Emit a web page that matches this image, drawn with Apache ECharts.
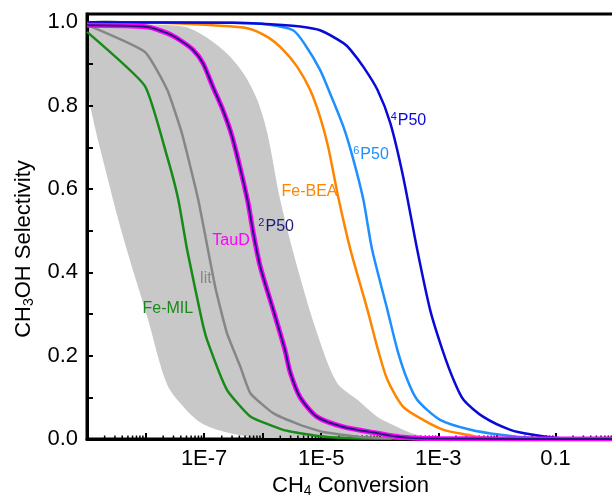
<!DOCTYPE html>
<html>
<head>
<meta charset="utf-8">
<script src="https://cdn.jsdelivr.net/npm/echarts@6/dist/echarts.min.js"></script>
<style>
  html, body { margin: 0; padding: 0; background: #fff; }
  #chart { width: 612px; height: 496px; }
</style>
</head>
<body>
<div id="chart"></div>
<script>
// Each curve: [log10(CH4 conversion), CH3OH selectivity]
const feMIL = [[-9, 0.977], [-8.01, 0.847], [-7.63, 0.677], [-7.44, 0.574], [-7.29, 0.454], [-7.04, 0.286],
  [-6.95, 0.238], [-6.61, 0.118], [-6.21, 0.054], [-5.65, 0.022], [-5.19, 0.01], [-4.85, 0.004], [-4.3, 0.001], [-3.8, 0]];
const lit = [[-9, 0.994], [-8.01, 0.929], [-7.63, 0.838], [-7.38, 0.734], [-7.1, 0.574], [-6.81, 0.365],
  [-6.61, 0.254], [-6.38, 0.173], [-6.21, 0.11], [-5.82, 0.062], [-5.36, 0.034], [-4.97, 0.017], [-4.33, 0.005], [-3.5, 0.001], [-3, 0]];
const tauD = [[-9, 0.993], [-7.97, 0.989], [-7.63, 0.974], [-7.41, 0.957], [-7.19, 0.934], [-7.02, 0.902],
  [-6.85, 0.845], [-6.68, 0.79], [-6.52, 0.725], [-6.26, 0.574], [-6.16, 0.494], [-6.04, 0.413], [-5.82, 0.31],
  [-5.62, 0.214], [-5.53, 0.16], [-5.36, 0.1], [-5.07, 0.053], [-4.62, 0.029], [-4.04, 0.014], [-3.65, 0.005], [-3, 0.001], [0, 0]];
const p50d2 = [[-9, 0.993], [-7.97, 0.989], [-7.63, 0.974], [-7.41, 0.957], [-7.19, 0.934], [-7.02, 0.902],
  [-6.85, 0.845], [-6.68, 0.79], [-6.52, 0.725], [-6.26, 0.574], [-6.16, 0.494], [-6.04, 0.413], [-5.82, 0.31],
  [-5.62, 0.214], [-5.53, 0.16], [-5.36, 0.1], [-5.07, 0.053], [-4.62, 0.029], [-4.04, 0.014], [-3.65, 0.005], [-3, 0.001], [0, 0]];
const feBEA = [[-9, 1.0], [-7.5, 0.998], [-6.85, 0.993], [-6.26, 0.986], [-5.92, 0.965], [-5.65, 0.934],
  [-5.41, 0.893], [-5.19, 0.838], [-5.02, 0.773], [-4.88, 0.7], [-4.71, 0.581], [-4.5, 0.454], [-4.21, 0.31],
  [-4.03, 0.214], [-3.87, 0.142], [-3.6, 0.077], [-3.26, 0.046], [-2.91, 0.022], [-2.5, 0.01], [-2.23, 0.003], [-1.5, 0.0005], [0, 0]];
const p50d6 = [[-9, 1.0], [-6.5, 0.999], [-5.92, 0.995], [-5.48, 0.981], [-5.27, 0.945], [-5.02, 0.886],
  [-4.85, 0.83], [-4.62, 0.749], [-4.45, 0.67], [-4.28, 0.574], [-4.13, 0.454], [-3.87, 0.31], [-3.7, 0.214],
  [-3.53, 0.142], [-3.36, 0.094], [-2.97, 0.046], [-2.45, 0.022], [-1.94, 0.01], [-1.43, 0.003], [-0.5, 0.0005], [0, 0]];
const p50d4 = [[-9, 1.0], [-6.5, 0.999], [-5.8, 0.995], [-5.36, 0.99], [-5.02, 0.981], [-4.62, 0.95],
  [-4.5, 0.934], [-4.28, 0.893], [-4.04, 0.838], [-3.82, 0.758], [-3.6, 0.629], [-3.36, 0.454], [-3.14, 0.31],
  [-2.93, 0.214], [-2.74, 0.142], [-2.57, 0.094], [-2.23, 0.053], [-1.77, 0.022], [-1.38, 0.01], [-0.91, 0.002], [0, 0]];

// Literature range (shaded band): lower-left and upper-right edges
const bandLower = [[-9, 0.845], [-8.61, 0.605], [-8.32, 0.454], [-7.97, 0.293], [-7.63, 0.13], [-7.32, 0.072],
  [-7.07, 0.04], [-6.78, 0.022], [-6.21, 0.005], [-5.5, 0.001], [-3, 0]];
const bandUpper = [[-9, 0.995], [-7.8, 0.994], [-7.24, 0.985], [-6.68, 0.934], [-6.33, 0.878], [-6.09, 0.813],
  [-5.92, 0.734], [-5.7, 0.574], [-5.41, 0.413], [-5.07, 0.254], [-4.73, 0.135], [-4.38, 0.094], [-4.04, 0.053],
  [-3.7, 0.029], [-3.48, 0.015], [-3.14, 0.003], [-3, 0]];

// Axis ticks
const labeledDecades = [-7, -5, -3, -1];
const decadeLabels = ['1E-7', '1E-5', '1E-3', '0.1'];
const minorDecades = [-9, -8, -7, -6, -5, -4, -3, -2, -1];
const minorMultipliers = [2, 3, 4, 5, 6, 7, 8, 9];

const FONT = '"Liberation Sans", Arial, sans-serif';
const pow10 = e => Math.pow(10, e);
const toPoints = arr => arr.map(p => [pow10(p[0]), p[1]]);

const minorTickValues = [];
minorDecades.forEach(d => minorMultipliers.forEach(m => minorTickValues.push([m * pow10(d), 0])));

function curve(name, arr, color, width, z, smooth, label) {
  const s = {
    type: 'line', name: name, data: toPoints(arr), symbol: 'none', showSymbol: false,
    smooth: smooth,
    lineStyle: { color: color, width: width }, z: z, animation: false, silent: true
  };
  if (label) {
    s.markPoint = {
      symbol: 'circle', symbolSize: 0, silent: true, animation: false,
      data: [{ coord: [pow10(label.at[0]), label.at[1]] }],
      label: {
        show: true, position: 'inside', formatter: label.text, color: color,
        fontSize: 16, fontFamily: FONT,
        rich: {
          t: { fontSize: 16, fontFamily: FONT, color: color },
          sup: { fontSize: 11, fontFamily: FONT, color: color, padding: [0, 1, 8, 0] }
        }
      }
    };
  }
  return s;
}

const chart = echarts.init(document.getElementById('chart'), null, { renderer: 'canvas' });

chart.setOption({
  animation: false,
  backgroundColor: '#fff',
  grid: {
    left: 87, right: -2, top: 14, bottom: 57, containLabel: false, outerBoundsMode: 'none',
    show: true, borderColor: '#000', borderWidth: 3, backgroundColor: 'transparent'
  },
  xAxis: {
    type: 'log', logBase: 10, min: 1e-9, max: 1, interval: 1, z: 1,
    name: '{a|CH}{sub|4}{a| Conversion}', nameLocation: 'middle', nameGap: 32,
    nameTextStyle: {
      fontFamily: FONT, fontSize: 22, color: '#000',
      rich: {
        a: { fontSize: 22, fontFamily: FONT, color: '#000' },
        sub: { fontSize: 14, fontFamily: FONT, color: '#000', padding: [10, 0, 0, 0] }
      }
    },
    axisLine: { show: true, lineStyle: { color: '#000', width: 3 } },
    axisTick: { show: true, inside: true, length: 6, lineStyle: { color: '#000', width: 2 } },
    minorTick: { show: false },
    splitLine: { show: false },
    axisLabel: {
      fontFamily: FONT, fontSize: 22, color: '#000', margin: 9, showMinLabel: true, showMaxLabel: true,
      formatter: v => {
        const i = labeledDecades.indexOf(Math.round(Math.log10(v)));
        return i >= 0 ? decadeLabels[i] : '';
      }
    }
  },
  yAxis: {
    type: 'value', min: 0, max: 1.02, interval: 0.2, z: 1,
    name: '{a|CH}{sub|3}{a|OH Selectivity}', nameLocation: 'middle', nameGap: 51, nameRotate: 90,
    nameTextStyle: {
      fontFamily: FONT, fontSize: 22, color: '#000', padding: [0, 45, 0, 0],
      rich: {
        a: { fontSize: 22, fontFamily: FONT, color: '#000' },
        sub: { fontSize: 14, fontFamily: FONT, color: '#000', padding: [10, 0, 0, 0] }
      }
    },
    axisLine: { show: true, lineStyle: { color: '#000', width: 3 } },
    axisTick: { show: true, inside: true, length: 6, lineStyle: { color: '#000', width: 2 } },
    minorTick: { show: true, splitNumber: 2, length: 6, lineStyle: { color: '#000', width: 2 } },
    splitLine: { show: false },
    axisLabel: {
      fontFamily: FONT, fontSize: 22, color: '#000', margin: 9, showMaxLabel: false,
      formatter: v => v.toFixed(1)
    }
  },
  series: [
    {
      type: 'custom', name: 'range', z: 0, silent: true, animation: false, clip: true,
      data: [[1e-9, 0]],
      renderItem: (params, api) => {
        const pts = bandLower.map(p => api.coord([pow10(p[0]), p[1]]))
          .concat(bandUpper.slice().reverse().map(p => api.coord([pow10(p[0]), p[1]])));
        return { type: 'polygon', shape: { points: pts, smooth: 0.3 }, style: { fill: '#c8c8c8' } };
      }
    },
    {
      type: 'custom', name: 'minor ticks', z: 3, silent: true, animation: false,
      data: minorTickValues,
      renderItem: (params, api) => {
        const p = api.coord([api.value(0), 0]);
        return { type: 'line', shape: { x1: p[0], y1: p[1], x2: p[0], y2: p[1] - 3.5 }, style: { stroke: '#000', lineWidth: 1.5 } };
      }
    },
    curve('Fe-MIL', feMIL, '#188a18', 2.5, 4, 0.15, { text: 'Fe-MIL', at: [-7.62, 0.314] }),
    curve('lit', lit, '#868686', 2.5, 4, 0.15, { text: 'lit', at: [-6.97, 0.386] }),
    curve('TauD', tauD, '#ff00ff', 5, 5, 0.25, { text: 'TauD', at: [-6.54, 0.475] }),
    curve('2P50', p50d2, '#1c1c78', 2, 6, 0.25, { text: '{sup|2}{t|P50}', at: [-5.77, 0.509] }),
    curve('Fe-BEA', feBEA, '#ff8400', 2.5, 4, 0.25, { text: 'Fe-BEA', at: [-5.2, 0.593] }),
    curve('6P50', p50d6, '#1e8fff', 2.5, 4, 0.25, { text: '{sup|6}{t|P50}', at: [-4.15, 0.682] }),
    curve('4P50', p50d4, '#0a0ad8', 2.5, 4, 0.25, { text: '{sup|4}{t|P50}', at: [-3.51, 0.763] })
  ]
});
</script>
</body>
</html>
